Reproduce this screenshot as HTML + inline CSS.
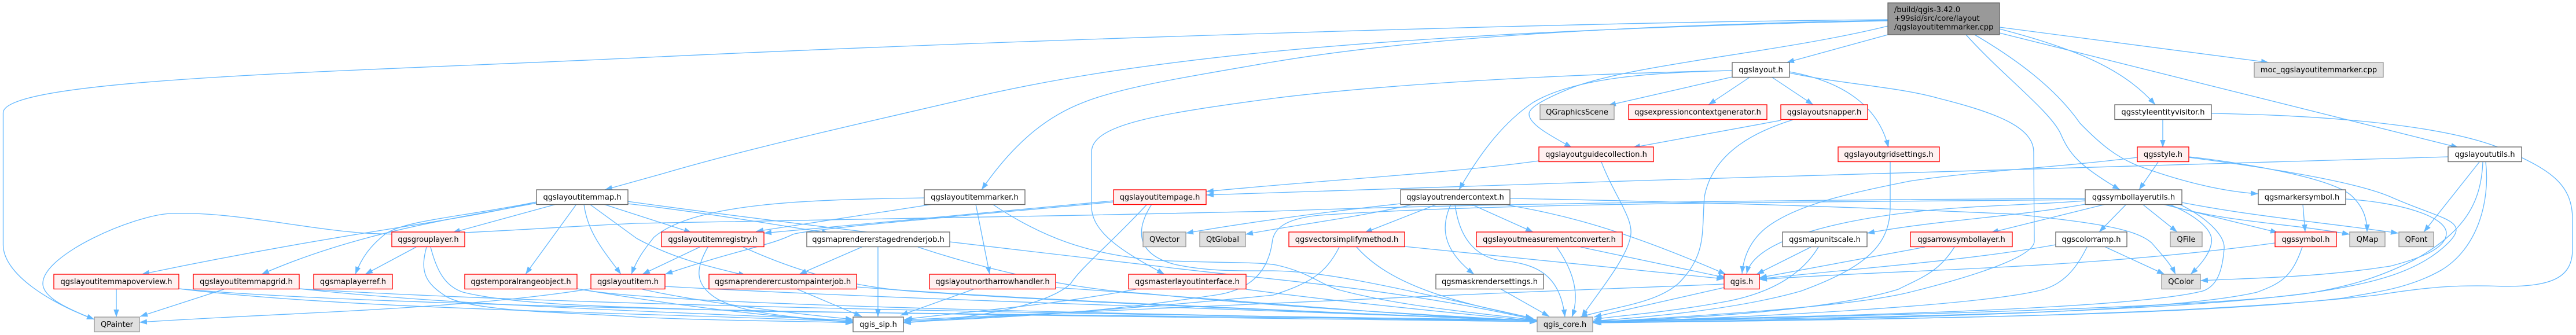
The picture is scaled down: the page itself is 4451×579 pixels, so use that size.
<!DOCTYPE html>
<html><head><meta charset="utf-8"><title>qgslayoutitemmarker.cpp include graph</title>
<style>
html,body{margin:0;padding:0;background:#fff}
svg{display:block}
text{font-family:"DejaVu Sans","Liberation Sans",sans-serif;font-size:13.07px;fill:#000;text-anchor:middle}
.e path{fill:none;stroke:#63b8ff;stroke-width:1.33;marker-end:url(#a)}
.w{fill:#fff;stroke:#666;stroke-width:1.33}
.r{fill:#fff0f0;stroke:#f00;stroke-width:1.33}
.g{fill:#e0e0e0;stroke:#999;stroke-width:1.33}
.k{fill:#999;stroke:#666;stroke-width:1.33}
</style></head><body>
<svg xmlns="http://www.w3.org/2000/svg" width="4451" height="579" viewBox="0 0 4451 579">
<defs><marker id="a" markerUnits="userSpaceOnUse" markerWidth="14" markerHeight="10" refX="13" refY="5" orient="auto"><path d="M0 .3L13 5L0 9.7z" fill="#63b8ff"/></marker></defs>
<g class="e">
<!-- root -->
<path d="M3262 34C2700 38 1700 71 1100 100C600 124 5.5 135 5.5 195L5.5 423C5.5 475 90 525 163 552"/>
<path d="M3262 36C2800 46 2450 65 2200 89C1950 114 1800 140 1661 173C1480 215 1300 255 1149 299L1045 328"/>
<path d="M3262 35C2800 44 2450 65 2200 107C2050 133 1940 150 1872 177C1820 197 1760 235 1696 328"/>
<path d="M3262 45C3080 90 2830 110 2720 150C2650 178 2642 190 2642 197C2642 215 2680 235 2716 255"/>
<path d="M3262 60L3087 108"/>
<path d="M3455 47L3920 108"/>
<path d="M3455 50C3590 85 3670 120 3724 181"/>
<path d="M3455 57L4248 255"/>
<path d="M3397 60C3460 130 3540 190 3560 230C3575 265 3590 285 3663 328"/>
<path d="M3412 60C3480 100 3550 150 3594 213C3630 250 3660 275 3704 290C3760 310 3830 330 3902 335"/>
<!-- qgslayout -->
<path d="M2993 122C2700 128 2400 145 2200 170C2000 197 1886 215 1886 263L1886 357C1886 405 1950 440 2012 474"/>
<path d="M2993 122C2850 125 2720 135 2649 177C2600 210 2560 260 2521 328"/>
<path d="M2993 133L2779 182"/>
<path d="M3024 133L2952 181"/>
<path d="M3061 133L3133 181"/>
<path d="M3092 124C3180 140 3245 180 3263 255"/>
<path d="M3092 126C3180 145 3280 150 3350 170C3450 195 3514 220 3514 263L3515 417C3515 445 3400 480 3300 505C3200 530 2950 545 2752 557"/>
<!-- snapper, guide, grid -->
<path d="M3077 208L2821 255"/>
<path d="M3098 207C3040 225 2960 260 2945 340C2940 400 2950 440 2900 490C2860 525 2790 530 2730 548"/>
<path d="M2659 278C2500 300 2300 310 2084 331"/>
<path d="M2767 280C2790 340 2825 380 2817 410C2810 450 2750 520 2733 548"/>
<path d="M3266 280L3266 357C3266 420 3230 460 3112 503C3000 535 2850 548 2752 555"/>
<!-- utils -->
<path d="M4230 271C3500 295 2800 310 2084 337"/>
<path d="M4284 280L4188 401"/>
<path d="M4290 280C4287 350 4260 400 4170 450C4100 485 4050 495 4000 505C3750 540 3300 548 2752 556"/>
<path d="M4295 280C4303 350 4280 430 4218 467C4160 500 4100 505 4050 515C3800 545 3300 552 2752 557"/>
<!-- visitor -->
<path d="M3737 207L3737 255"/>
<path d="M3821 196C4050 200 4240 220 4330 260C4410 295 4445 320 4445 380L4445 430C4445 480 4410 495 4328 495C4250 492 4200 495 4107 510C3800 545 3300 552 2752 558"/>
<!-- style -->
<path d="M3693 272C3550 290 3420 295 3300 313C3190 335 3100 355 3050 395C3020 420 3012 450 3010 473"/>
<path d="M3729 280L3696 328"/>
<path d="M3782 271C3850 278 4030 305 4065 340C4085 360 4090 380 4090 401"/>
<path d="M3782 272C3880 285 4060 310 4130 340C4220 380 4270 380 4230 420C4180 470 4100 490 4000 505C3850 530 3300 545 2752 556"/>
<!-- symbollayerutils -->
<path d="M3638 353L3440 402"/>
<path d="M3674 353L3627 401"/>
<path d="M3702 353L3762 401"/>
<path d="M3737 353L3936 402"/>
<path d="M3740 353C3850 385 3950 385 4060 405"/>
<path d="M3770 350C3900 375 4020 385 4144 403"/>
<path d="M3748 353C3800 375 3825 400 3821 420C3818 440 3800 460 3785 474"/>
<path d="M3766 353C3820 380 3845 410 3843 430C3840 470 3830 495 3806 503C3700 530 3300 545 2752 555"/>
<path d="M3603 347C3500 355 3400 355 3300 367C3150 385 3030 420 3018 473"/>
<path d="M3603 353C3480 375 3350 380 3226 403"/>
<path d="M3603 343C3200 345 2600 350 2200 365C1800 375 1300 380 1100 386C900 395 750 410 631 403C520 395 400 365 295 369C230 372 74 440 74 490C74 515 120 535 163 552"/>
<path d="M3603 345C3100 350 2600 350 2280 372C2220 378 2200 395 2198 420C2192 460 2170 500 2100 510C1900 540 1800 545 1561 557"/>
<!-- rendercontext -->
<path d="M2420 352C2300 365 2150 385 2049 403"/>
<path d="M2443 353C2350 375 2230 390 2152 405"/>
<path d="M2483 353L2358 402"/>
<path d="M2507 353C2490 390 2490 430 2547 474"/>
<path d="M2514 353C2520 400 2540 440 2590 450C2650 455 2695 470 2704 548"/>
<path d="M2542 353L2649 401"/>
<path d="M2596 353C2700 370 2800 395 2982 474"/>
<path d="M2609 343C3000 350 3300 362 3480 370C3620 385 3690 395 3718 420C3735 440 3750 455 3759 474"/>
<!-- itemmap -->
<path d="M961 353L782 402"/>
<path d="M996 353L908 474"/>
<path d="M1009 353C1015 400 1040 430 1073 474"/>
<path d="M1043 353L1195 402"/>
<path d="M1019 353L1100 412C1160 445 1220 460 1289 476"/>
<path d="M1084 352C1200 365 1320 385 1433 403"/>
<path d="M927 349C780 385 600 400 245 474"/>
<path d="M927 351C800 375 620 400 452 474"/>
<path d="M927 349C800 375 700 380 665 405C640 425 625 445 614 474"/>
<path d="M1084 348C1350 385 1700 425 2000 460C2150 480 2400 495 2649 552"/>
<!-- marker -->
<path d="M1612 353L1306 400"/>
<path d="M1686 353L1710 474"/>
<path d="M1597 342C1400 345 1200 350 1130 410C1110 435 1100 450 1091 474"/>
<path d="M1715 353C1800 410 1880 440 2000 450C2100 455 2170 452 2205 458C2260 470 2280 490 2310 500C2420 530 2550 540 2649 553"/>
<!-- page -->
<path d="M1924 347C1750 365 1500 385 1320 403"/>
<path d="M1924 349C1700 370 1400 395 1370 405C1330 425 1280 430 1149 474"/>
<path d="M1982 353C1920 420 1870 460 1850 490C1830 510 1760 545 1561 558"/>
<path d="M1990 353C1960 400 1965 440 2030 457C2090 470 2150 468 2200 468C2300 470 2400 495 2649 550"/>
<!-- registry -->
<path d="M1209 427L1110 474"/>
<path d="M1223 427C1205 460 1195 490 1240 517C1290 545 1400 550 1474 557"/>
<path d="M1284 427C1400 480 1500 500 1600 505C1900 525 2300 540 2656 555"/>
<!-- staged -->
<path d="M1489 427L1381 474"/>
<path d="M1517 427L1517 548"/>
<path d="M1586 427C1700 465 1850 500 1977 507C2200 530 2400 540 2656 555"/>
<!-- custom, north, master -->
<path d="M1378 500L1489 547"/>
<path d="M1480 496C1800 520 2200 535 2656 555"/>
<path d="M1682 500L1556 545"/>
<path d="M1824 497C2100 515 2400 545 2656 555"/>
<path d="M1963 500C1800 530 1700 535 1563 552"/>
<path d="M2153 500C2300 520 2500 540 2656 555"/>
<!-- item, temporal, group, overview, grid -->
<path d="M1021 499C800 535 500 540 241 557"/>
<path d="M1149 495C1600 520 2200 535 2656 555"/>
<path d="M1110 500C1200 520 1350 540 1474 552"/>
<path d="M997 499C1150 525 1300 545 1474 557"/>
<path d="M997 499C1100 520 1500 535 2656 556"/>
<path d="M719 427L631 474"/>
<path d="M737 427C725 470 735 490 772 513C820 540 1000 540 1100 548C1250 555 1400 555 1474 558"/>
<path d="M744 427C755 470 770 495 800 505C900 530 1100 530 1300 538C1800 548 2300 550 2656 554"/>
<path d="M201 500L201 548"/>
<path d="M309 499C600 535 1100 540 1474 556"/>
<path d="M309 499C700 535 1800 545 2656 556"/>
<path d="M387 500L242 547"/>
<path d="M517 499C800 530 1200 540 1474 554"/>
<path d="M517 499C1000 530 2000 545 2656 553"/>
<!-- simplify, measure, mask, qgis -->
<path d="M2427 426L2979 482"/>
<path d="M2314 427C2290 475 2260 490 2200 510C2000 530 1800 545 1561 555"/>
<path d="M2344 427C2400 490 2500 520 2649 550"/>
<path d="M2731 427L2982 480"/>
<path d="M2690 427C2720 470 2730 510 2716 548"/>
<path d="M2594 500L2677 547"/>
<path d="M2979 497L2754 548"/>
<path d="M2979 491C2500 510 2000 530 1561 553"/>
<!-- unitscale, arrow, colorramp, symbol, markersymbol -->
<path d="M3129 427L3035 474"/>
<path d="M3142 427C3110 480 3050 510 2972 523C2880 540 2800 545 2754 552"/>
<path d="M3326 427L3040 480"/>
<path d="M3377 427C3350 470 3320 480 3280 500C3150 540 2900 550 2754 557"/>
<path d="M3552 423C3400 450 3250 460 3040 482"/>
<path d="M3638 427L3740 474"/>
<path d="M3606 427C3585 470 3560 495 3520 503C3400 530 3000 550 2754 557"/>
<path d="M3931 420C3600 465 3300 465 3040 483"/>
<path d="M3978 427C3960 480 3940 490 3900 505C3750 540 3300 550 2754 558"/>
<path d="M3979 353L3983 401"/>
<path d="M4053 344C4150 350 4227 375 4227 403C4227 430 4180 447 4130 460C4000 480 3900 480 3802 485"/>
</g>
<!-- nodes -->
<rect class="k" x="3262" y="5" width="193" height="55"/>
<text x="3273" y="21" style="text-anchor:start">/build/qgis-3.42.0</text>
<text x="3273" y="36" style="text-anchor:start">+99sid/src/core/layout</text>
<text x="3273" y="51" style="text-anchor:start">/qgslayoutitemmarker.cpp</text>

<rect class="w" x="2993" y="108" width="99" height="25.5"/><text x="3042.5" y="125">qgslayout.h</text>
<rect class="g" x="3895" y="108" width="223" height="25.5"/><text x="4006.5" y="125">moc_qgslayoutitemmarker.cpp</text>

<rect class="g" x="2661" y="181" width="128" height="25.5"/><text x="2725" y="198">QGraphicsScene</text>
<rect class="r" x="2814" y="181" width="239" height="25.5"/><text x="2933.5" y="198">qgsexpressioncontextgenerator.h</text>
<rect class="r" x="3077" y="181" width="150" height="25.5"/><text x="3152" y="198">qgslayoutsnapper.h</text>
<rect class="w" x="3654" y="181" width="167" height="25.5"/><text x="3737.5" y="198">qgsstyleentityvisitor.h</text>

<rect class="r" x="2659" y="254" width="198" height="25.5"/><text x="2758" y="271">qgslayoutguidecollection.h</text>
<rect class="r" x="3176" y="254" width="175" height="25.5"/><text x="3263.5" y="271">qgslayoutgridsettings.h</text>
<rect class="r" x="3693" y="254" width="89" height="25.5"/><text x="3737.5" y="271">qgsstyle.h</text>
<rect class="w" x="4230" y="254" width="127" height="25.5"/><text x="4293.5" y="271">qgslayoututils.h</text>

<rect class="w" x="927" y="328" width="158" height="25.5"/><text x="1006" y="345">qgslayoutitemmap.h</text>
<rect class="w" x="1597" y="328" width="174" height="25.5"/><text x="1684" y="345">qgslayoutitemmarker.h</text>
<rect class="r" x="1924" y="328" width="160" height="25.5"/><text x="2004" y="345">qgslayoutitempage.h</text>
<rect class="w" x="2420" y="328" width="189" height="25.5"/><text x="2514.5" y="345">qgslayoutrendercontext.h</text>
<rect class="w" x="3603" y="328" width="167" height="25.5"/><text x="3686.5" y="345">qgssymbollayerutils.h</text>
<rect class="w" x="3902" y="328" width="151" height="25.5"/><text x="3977.5" y="345">qgsmarkersymbol.h</text>

<rect class="r" x="677" y="401" width="126" height="25.5"/><text x="740" y="418">qgsgrouplayer.h</text>
<rect class="r" x="1143" y="401" width="177" height="25.5"/><text x="1231.5" y="418">qgslayoutitemregistry.h</text>
<rect class="w" x="1394" y="401" width="247" height="25.5"/><text x="1517.5" y="418">qgsmaprendererstagedrenderjob.h</text>
<rect class="g" x="1975" y="401" width="74" height="25.5"/><text x="2012" y="418">QVector</text>
<rect class="g" x="2073" y="401" width="79" height="25.5"/><text x="2112.5" y="418">QtGlobal</text>
<rect class="r" x="2227" y="401" width="200" height="25.5"/><text x="2327" y="418">qgsvectorsimplifymethod.h</text>
<rect class="r" x="2551" y="401" width="252" height="25.5"/><text x="2677" y="418">qgslayoutmeasurementconverter.h</text>
<rect class="w" x="3080" y="401" width="146" height="25.5"/><text x="3153" y="418">qgsmapunitscale.h</text>
<rect class="r" x="3301" y="401" width="176" height="25.5"/><text x="3389" y="418">qgsarrowsymbollayer.h</text>
<rect class="w" x="3552" y="401" width="123" height="25.5"/><text x="3613.5" y="418">qgscolorramp.h</text>
<rect class="g" x="3750" y="401" width="55" height="25.5"/><text x="3777.5" y="418">QFile</text>
<rect class="r" x="3931" y="401" width="106" height="25.5"/><text x="3984" y="418">qgssymbol.h</text>
<rect class="g" x="4060" y="401" width="61" height="25.5"/><text x="4090.5" y="418">QMap</text>
<rect class="g" x="4145" y="401" width="60" height="25.5"/><text x="4175" y="418">QFont</text>

<rect class="r" x="93" y="474" width="216" height="25.5"/><text x="201" y="491">qgslayoutitemmapoverview.h</text>
<rect class="r" x="334" y="474" width="183" height="25.5"/><text x="425.5" y="491">qgslayoutitemmapgrid.h</text>
<rect class="r" x="542" y="474" width="136" height="25.5"/><text x="610" y="491">qgsmaplayerref.h</text>
<rect class="r" x="803" y="474" width="194" height="25.5"/><text x="900" y="491">qgstemporalrangeobject.h</text>
<rect class="r" x="1021" y="474" width="128" height="25.5"/><text x="1085" y="491">qgslayoutitem.h</text>
<rect class="r" x="1225" y="474" width="255" height="25.5"/><text x="1352.5" y="491">qgsmaprenderercustompainterjob.h</text>
<rect class="r" x="1606" y="474" width="218" height="25.5"/><text x="1715" y="491">qgslayoutnortharrowhandler.h</text>
<rect class="r" x="1950" y="474" width="203" height="25.5"/><text x="2051.5" y="491">qgsmasterlayoutinterface.h</text>
<rect class="w" x="2481" y="474" width="186" height="25.5"/><text x="2574" y="491">qgsmaskrendersettings.h</text>
<rect class="r" x="2979" y="474" width="61" height="25.5"/><text x="3009.5" y="491">qgis.h</text>
<rect class="g" x="3735" y="474" width="67" height="25.5"/><text x="3768.5" y="491">QColor</text>

<rect class="g" x="163" y="548" width="78" height="25.5"/><text x="202" y="565">QPainter</text>
<rect class="w" x="1474" y="548" width="87" height="25.5"/><text x="1517.5" y="565">qgis_sip.h</text>
<rect class="g" x="2656" y="548" width="96" height="25.5"/><text x="2704" y="565">qgis_core.h</text>
</svg>
</body></html>
